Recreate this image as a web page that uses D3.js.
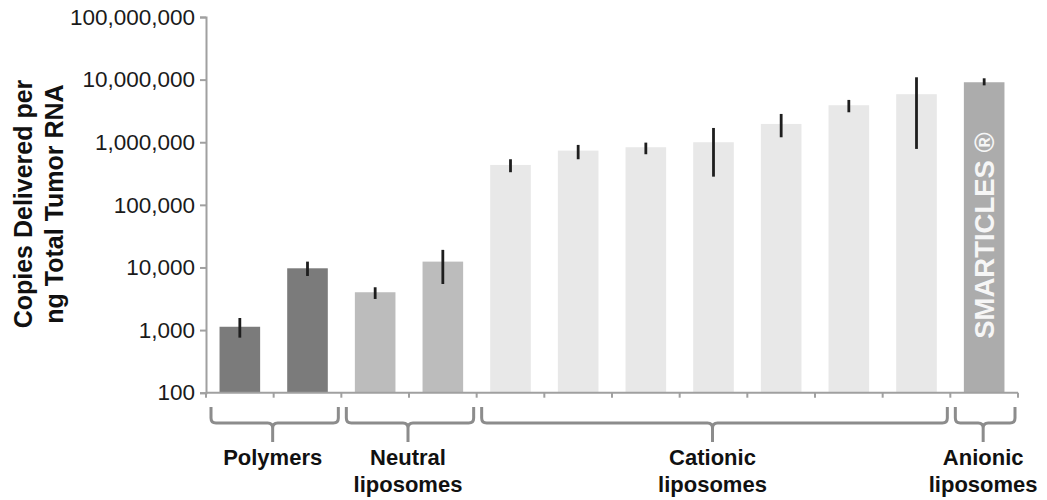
<!DOCTYPE html>
<html>
<head>
<meta charset="utf-8">
<script src="https://cdn.jsdelivr.net/npm/d3@7"></script>
<style>
  html, body { margin: 0; padding: 0; background: #fff; }
  svg { display: block; }
  text { font-family: "Liberation Sans", Arial, Helvetica, sans-serif; }
</style>
</head>
<body>
<svg id="chart" width="1047" height="500"></svg>
<script>
// ---- data ----
const categories = ["P1", "P2", "N1", "N2", "C1", "C2", "C3", "C4", "C5", "C6", "C7", "A1"];
const groupOf    = ["Polymers", "Polymers", "Neutral", "Neutral", "Cationic", "Cationic", "Cationic", "Cationic", "Cationic", "Cationic", "Cationic", "Anionic"];
const values     = [1130, 9700, 4020, 12400, 434000, 735000, 832000, 1000000, 1960000, 3900000, 5850000, 9080000];
const errLow     = [757, 7310, 3140, 5450, 332000, 535000, 643000, 282000, 1200000, 3010000, 782000, 8100000];
const errHigh    = [1560, 12400, 4830, 19100, 535000, 906000, 986000, 1690000, 2830000, 4740000, 10900000, 10500000];
const groups      = ["Polymers", "Neutral", "Cationic", "Anionic"];
const groupLabels = [["Polymers"], ["Neutral", "liposomes"], ["Cationic", "liposomes"], ["Anionic", "liposomes"]];
const groupColors = ["#7b7b7b", "#bcbcbc", "#e8e8e8", "#acacac"];
const yTicks      = [100, 1000, 10000, 100000, 1000000, 10000000, 100000000];
const yTitle      = ["Copies Delivered per", "ng Total Tumor RNA"];
const barText     = "SMARTICLES \u00AE";

// ---- layout ----
const svg = d3.select("#chart");
const mLeft = 206, mRight = 1018, mTop = 17, mBottom = 392.7;

const x = d3.scaleBand().domain(categories).range([mLeft, mRight]).paddingInner(0.4).paddingOuter(0.2);
const y = d3.scaleLog().domain([100, 100000000]).range([mBottom, mTop]);
const color = d3.scaleOrdinal().domain(groups).range(groupColors);
const step = x.step();
const bandStart = i => mLeft + i * step;

// bars
const data = categories.map((c, i) => ({ c, g: groupOf[i], v: values[i], lo: errLow[i], hi: errHigh[i] }));
svg.append("g").selectAll("rect").data(data).join("rect")
  .attr("x", d => x(d.c))
  .attr("width", x.bandwidth())
  .attr("y", d => y(d.v))
  .attr("height", d => y(100) - y(d.v))
  .attr("fill", d => color(d.g));

// error bars
svg.append("g").selectAll("line").data(data).join("line")
  .attr("x1", d => x(d.c) + x.bandwidth() / 2)
  .attr("x2", d => x(d.c) + x.bandwidth() / 2)
  .attr("y1", d => y(d.hi))
  .attr("y2", d => y(d.lo))
  .attr("stroke", "#1e1e1e")
  .attr("stroke-width", 2.8);

// text inside the anionic bar
const last = data[data.length - 1];
svg.append("text")
  .attr("transform", `translate(${x(last.c) + x.bandwidth() / 2 + 10},${(y(last.v) + mBottom) / 2 - 2}) rotate(-90)`)
  .attr("text-anchor", "middle")
  .attr("fill", "#f6f6f6")
  .attr("font-weight", "bold")
  .attr("font-size", 27.5)
  .text(barText);

// y axis
const yAxis = d3.axisLeft(y).tickValues(yTicks).tickFormat(d3.format(",")).tickSize(6).tickPadding(5);
const gy = svg.append("g").attr("transform", `translate(${mLeft},0)`).call(yAxis);
gy.select(".domain").attr("stroke", "#a0a0a0").attr("stroke-width", 2);
gy.selectAll(".tick line").attr("stroke", "#a0a0a0").attr("stroke-width", 2);
gy.selectAll(".tick text").attr("font-size", 22.5).attr("fill", "#1a1a1a")
  .attr("font-family", "'Liberation Sans', Arial, sans-serif");

// x axis (ticks at band boundaries)
const boundaries = d3.range(categories.length + 1).map(bandStart);
svg.append("line").attr("x1", mLeft).attr("x2", mRight).attr("y1", mBottom).attr("y2", mBottom)
  .attr("stroke", "#a0a0a0").attr("stroke-width", 2);
svg.append("g").selectAll("line").data(boundaries).join("line")
  .attr("x1", d => d).attr("x2", d => d).attr("y1", mBottom).attr("y2", mBottom + 5)
  .attr("stroke", "#a0a0a0").attr("stroke-width", 2);

// group braces and labels
const gb = svg.append("g");
groups.forEach((g, gi) => {
  const idx = groupOf.map((v, i) => v === g ? i : -1).filter(i => i >= 0);
  const x0 = bandStart(idx[0]) + 5;
  const x1 = bandStart(idx[idx.length - 1] + 1) - 3;
  const mid = (bandStart(idx[0]) + bandStart(idx[idx.length - 1] + 1)) / 2 - 1;
  const yt = 407, yh = 423, ys = 442, r = 5;
  const p = `M${x0},${yt} V${yh - r} Q${x0},${yh} ${x0 + r},${yh} H${mid - r} Q${mid},${yh} ${mid},${yh + r} V${ys}` +
            ` M${mid},${yh + r} Q${mid},${yh} ${mid + r},${yh} H${x1 - r} Q${x1},${yh} ${x1},${yh - r} V${yt}`;
  gb.append("path").attr("d", p).attr("fill", "none").attr("stroke", "#8c8c8c").attr("stroke-width", 3);
  const t = gb.append("text").attr("text-anchor", "middle").attr("font-weight", "bold")
    .attr("font-size", 22).attr("fill", "#111");
  groupLabels[gi].forEach((line, li) => {
    t.append("tspan").attr("x", mid).attr("y", 465 + li * 27).text(line);
  });
});

// y title
const tt = svg.append("text")
  .attr("transform", `translate(0,204) rotate(-90)`)
  .attr("text-anchor", "middle").attr("font-weight", "bold").attr("font-size", 25).attr("fill", "#111");
yTitle.forEach((line, li) => {
  tt.append("tspan").attr("x", 0).attr("y", 32 + li * 31).text(line);
});
</script>
</body>
</html>
